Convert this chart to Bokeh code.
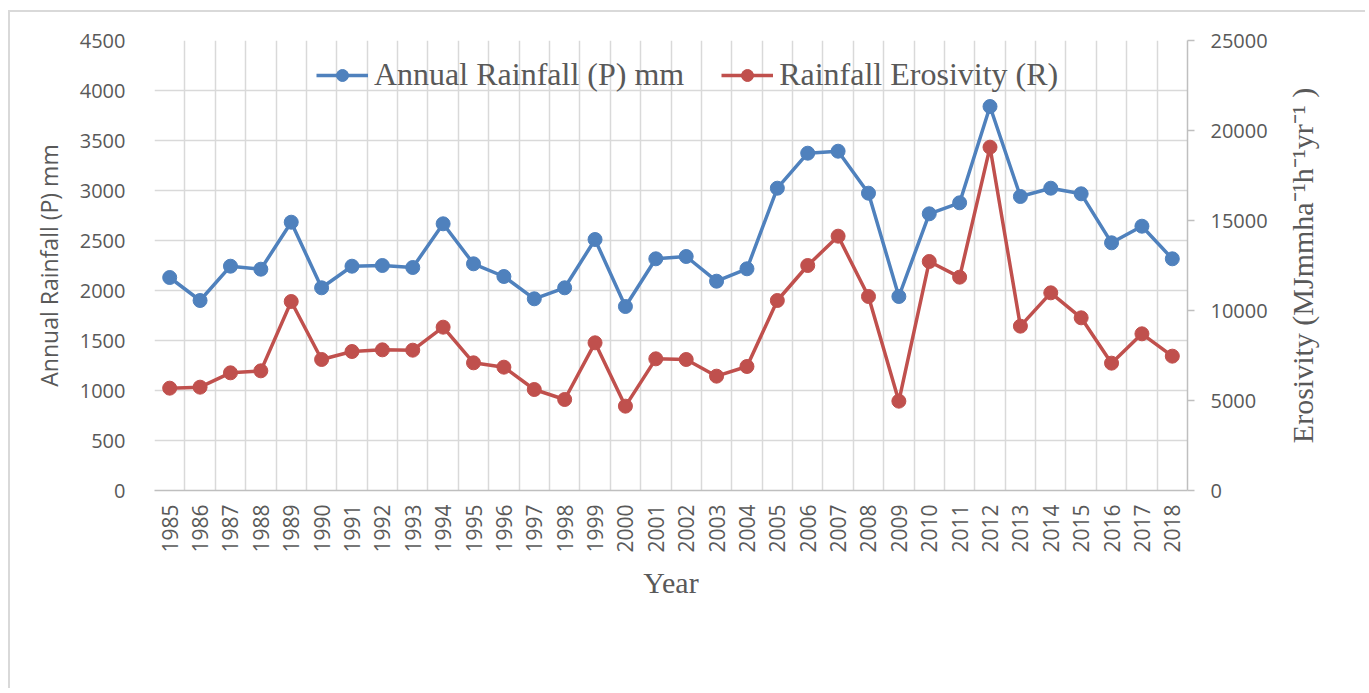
from bokeh.plotting import figure
from bokeh.layouts import row
from bokeh.models import (Range1d, LinearAxis, FixedTicker, Legend, LegendItem)
from bokeh.embed import file_html
from bokeh.resources import INLINE
import math

years = list(range(1985, 2019))
rainfall = [2130, 1900, 2243, 2213, 2683, 2027, 2243, 2250, 2230, 2667,
            2267, 2140, 1917, 2027, 2510, 1840, 2317, 2340, 2093, 2217,
            3023, 3373, 3393, 2973, 1940, 2767, 2877, 3840, 2940, 3023,
            2967, 2477, 2643, 2317]
erosivity = [5685, 5741, 6537, 6648, 10500, 7278, 7722, 7815, 7796, 9074,
             7093, 6852, 5611, 5056, 8204, 4685, 7315, 7278, 6352, 6889,
             10556, 12500, 14130, 10778, 4963, 12722, 11852, 19074, 9130, 10981,
             9593, 7074, 8704, 7463]
left_ticks = list(range(0, 4501, 500))
right_ticks = list(range(0, 25001, 5000))
right_title = "Erosivity (MJmmha\u207b\u00b9h\u207b\u00b9yr\u207b\u00b9 )"

BLUE = "#4F81BD"
RED = "#C0504D"
GRID = "#D9D9D9"
TXT = "#595959"
SANS = "Open Sans"
SERIF = "Liberation Serif"
H = 676

p = figure(width=1272, height=H, output_backend="svg", toolbar_location=None,
           x_range=Range1d(years[0] - 0.5, years[-1] + 0.5),
           y_range=Range1d(0, 4500),
           min_border_left=144, min_border_right=95,
           min_border_top=28, min_border_bottom=198,
           x_axis_location=None, y_axis_location=None)
p.outline_line_color = None
p.extra_y_ranges = {"r": Range1d(0, 25000)}

# axes
xaxis = LinearAxis(ticker=FixedTicker(ticks=years))
xaxis.major_label_orientation = math.pi / 2
xaxis.major_label_text_font = SANS
xaxis.major_label_text_font_size = "21px"
xaxis.major_label_text_color = TXT
xaxis.major_label_standoff = 8
xaxis.major_tick_line_color = None
xaxis.minor_tick_line_color = None
xaxis.axis_line_color = "#BFBFBF"
xaxis.axis_line_width = 1.5
xaxis.axis_label = "Year"
xaxis.axis_label_text_font = SERIF
xaxis.axis_label_text_font_size = "30px"
xaxis.axis_label_text_font_style = "normal"
xaxis.axis_label_text_color = TXT
xaxis.axis_label_standoff = 10
p.add_layout(xaxis, "below")

laxis = LinearAxis(ticker=FixedTicker(ticks=left_ticks))
laxis.major_label_text_font = SANS
laxis.major_label_text_font_size = "20px"
laxis.major_label_text_color = TXT
laxis.major_label_standoff = 23
laxis.major_tick_line_color = None
laxis.minor_tick_line_color = None
laxis.axis_line_color = None
laxis.axis_label = "Annual Rainfall (P) mm"
laxis.axis_label_text_font = SANS
laxis.axis_label_text_font_size = "23px"
laxis.axis_label_text_font_style = "normal"
laxis.axis_label_text_color = TXT
laxis.axis_label_standoff = 12
p.add_layout(laxis, "left")

raxis = LinearAxis(y_range_name="r", ticker=FixedTicker(ticks=right_ticks))
raxis.major_label_text_font = SANS
raxis.major_label_text_font_size = "20px"
raxis.major_label_text_color = TXT
raxis.major_label_standoff = 16
raxis.major_tick_in = 0
raxis.major_tick_out = 7
raxis.major_tick_line_color = "#BFBFBF"
raxis.major_tick_line_width = 1.5
raxis.minor_tick_line_color = None
raxis.axis_line_color = "#BFBFBF"
raxis.axis_line_width = 1.5
p.add_layout(raxis, "right")

# grids
p.xgrid.ticker = FixedTicker(ticks=[y - 0.5 for y in years] + [years[-1] + 0.5])
p.ygrid.ticker = FixedTicker(ticks=left_ticks)
p.xgrid.grid_line_color = GRID
p.ygrid.grid_line_color = GRID
p.xgrid.grid_line_width = 1.5
p.ygrid.grid_line_width = 1.5

# series
l1 = p.line(years, rainfall, line_color=BLUE, line_width=3.5)
s1 = p.scatter(years, rainfall, marker="circle", size=14, fill_color=BLUE, line_color=BLUE)
l2 = p.line(years, erosivity, y_range_name="r", line_color=RED, line_width=3.5)
s2 = p.scatter(years, erosivity, y_range_name="r", marker="circle", size=14,
               fill_color=RED, line_color=RED)

legend = Legend(items=[LegendItem(label="Annual Rainfall (P) mm", renderers=[l1, s1]),
                       LegendItem(label="Rainfall Erosivity (R)", renderers=[l2, s2])],
                orientation="horizontal", location=(162, 397))
legend.label_text_font = SERIF
legend.label_text_font_size = "32px"
legend.label_text_color = TXT
legend.glyph_width = 52
legend.glyph_height = 30
legend.label_height = 30
legend.label_standoff = 6
legend.spacing = 37
legend.padding = 0
legend.margin = 0
legend.border_line_color = None
legend.background_fill_alpha = 0
p.add_layout(legend, "center")

# narrow companion panel: its left-side axis title reads bottom-to-top like the
# reference's right axis title and is centred on the same vertical span
p2 = figure(width=83, height=H, output_backend="svg", toolbar_location=None,
            x_range=Range1d(0, 1), y_range=Range1d(0, 25000),
            min_border_left=38, min_border_right=0,
            min_border_top=28, min_border_bottom=198,
            x_axis_location=None, y_axis_location=None)
p2.outline_line_color = None
p2.grid.visible = False
taxis = LinearAxis(ticker=FixedTicker(ticks=[]))
taxis.axis_line_color = None
taxis.major_tick_line_color = None
taxis.minor_tick_line_color = None
taxis.major_label_text_font_size = "0px"
taxis.axis_label = right_title
taxis.axis_label_text_font = SERIF
taxis.axis_label_text_font_size = "30px"
taxis.axis_label_text_font_style = "normal"
taxis.axis_label_text_color = TXT
taxis.axis_label_standoff = 2
p2.add_layout(taxis, "left")

layout = row(p, p2, styles={"margin-top": "10px", "margin-left": "8px",
                            "border-top": "2px solid #D9D9D9",
                            "border-left": "2px solid #D9D9D9"})

open("out.html", "w").write(file_html(layout, INLINE))
